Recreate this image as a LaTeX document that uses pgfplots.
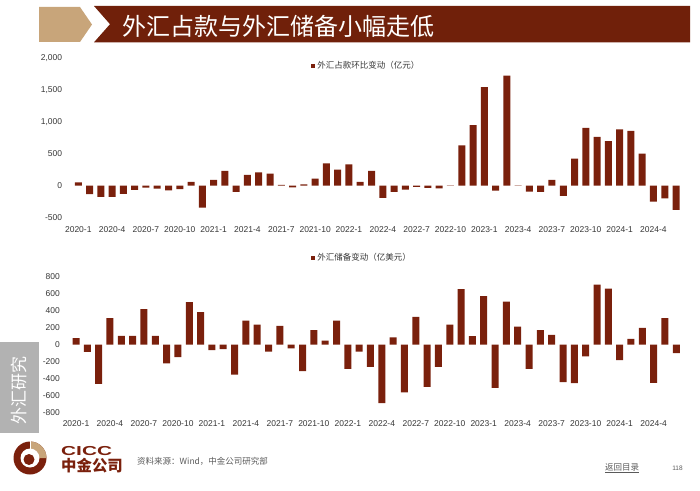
\documentclass[border=0pt]{standalone}
\usepackage{pgfplots}
\usepackage{pgfplotstable}
\pgfplotsset{compat=1.18}
\usepackage{fontspec}
\setmainfont{Liberation Sans}
\newfontfamily\cjk{Noto Sans CJK SC}
\definecolor{barred}{RGB}{122,32,12}
\definecolor{banner}{RGB}{112,32,10}
\definecolor{tanc}{RGB}{200,165,122}
\definecolor{side}{RGB}{178,178,178}
\definecolor{tickc}{RGB}{55,55,55}
\definecolor{srcc}{RGB}{90,90,90}

\pgfplotstableread{
x y
1 52
2 -135
3 -177
4 -177
5 -130
6 -68
7 -30
8 -47
9 -73
10 -57
11 57
12 -344
13 88
14 229
15 -99
16 167
17 208
18 188
19 10
20 -26
21 20
22 109
23 349
24 250
25 330
26 57
27 229
28 -193
29 -99
30 -63
31 -21
32 -36
33 -42
34 5
35 630
36 943
37 1537
38 -78
39 1719
40 5
41 -94
42 -99
43 88
44 -161
45 422
46 901
47 761
48 693
49 880
50 854
51 500
52 -250
53 -198
54 -380
}\tblA

\pgfplotstableread{
x y
1 75
2 -86
3 -464
4 310
5 102
6 102
7 417
8 102
9 -224
10 -149
11 499
12 381
13 -67
14 -55
15 -354
16 283
17 236
18 -83
19 220
20 -47
21 -314
22 169
23 47
24 283
25 -287
26 -83
27 -263
28 -692
29 83
30 -566
31 326
32 -499
33 -263
34 236
35 652
36 98
37 570
38 -511
39 507
40 212
41 -287
42 169
43 114
44 -444
45 -456
46 -141
47 707
48 660
49 -185
50 67
51 197
52 -452
53 310
54 -102
}\tblB

\pgfplotsset{
  cicc/.style={
    scale only axis,
    xmin=0.5, xmax=54.5,
    axis line style={draw=none},
    tick style={draw=none},
    major tick length=0pt,
    ybar, bar width=7pt,
    xtick={1,4,...,52},
    xticklabels={2020-1,2020-4,2020-7,2020-10,2021-1,2021-4,2021-7,2021-10,2022-1,2022-4,2022-7,2022-10,2023-1,2023-4,2023-7,2023-10,2024-1,2024-4},
    tick label style={font=\fontsize{8.5}{10}\selectfont, text=tickc},
    y tick label style={xshift=-7pt},
    x tick label style={yshift=-5pt},
    /pgf/number format/1000 sep={,},
    /pgf/number format/assume math mode=true,
    legend style={draw=none, fill=none, inner sep=0pt, legend cell align=left,
      font=\cjk\fontsize{8.5}{9}\selectfont, text=tickc},
    legend image code/.code={\fill[barred] (0pt,-2.2pt) rectangle (4.4pt,2.2pt);},
    clip=false,
  }
}

\begin{document}
\begin{tikzpicture}[x=1pt,y=1pt]
\path (0,0) rectangle (700,490);
% header
\fill[tanc] (39,483) -- (80,483) -- (92,465.5) -- (80,448) -- (39,448) -- cycle;
\fill[banner] (94,484) -- (690,484) -- (690,447.7) -- (94,447.7) -- (110,465.8) -- cycle;
\node[text=white, font=\cjk\fontsize{24}{26}\selectfont] at (278,463.5) {外汇占款与外汇储备小幅走低};

% sidebar
\fill[side] (0,148.3) rectangle (39,57);
\node[rotate=90, text=white, font=\cjk\fontsize{17}{18}\selectfont] at (19.5,100) {外汇研究};

% top chart
\begin{scope}[shift={(72.66pt,272.4pt)}]
\begin{axis}[cicc, width=609pt, height=160pt,
  ymin=-500, ymax=2000, ytick={-500,0,500,1000,1500,2000},
  legend style={at={(0.391,0.9475)}, anchor=west}]
\addplot[fill=barred, draw=none] table[x=x,y=y] {\tblA};
\addlegendentry{外汇占款环比变动（亿元）}
\end{axis}
\end{scope}

% bottom chart
\begin{scope}[shift={(70.34pt,77.7pt)}]
\begin{axis}[cicc, width=611.6pt, height=135.6pt,
  ymin=-800, ymax=800, ytick={-800,-600,...,800},
  legend style={at={(0.393,1.138)}, anchor=west}]
\addplot[fill=barred, draw=none] table[x=x,y=y] {\tblB};
\addlegendentry{外汇储备变动（亿美元）}
\end{axis}
\end{scope}

% footer logo
\fill[barred] (30,32) circle (16.5);
\fill[tanc] (46.5,32) arc (0:90:16.5) -- (30,41.5) arc (90:0:9.5) -- cycle;
\fill[white] (30,32) circle (9.5);
\fill[barred] (29,30.5) circle (5.5);
\draw[white, line width=1pt] (30,40.5) -- (30,48.6);
\node[anchor=west, text=barred, font=\bfseries\fontsize{13}{13}\selectfont, inner sep=0pt] at (61,38.7) {\scalebox{1.6}[1]{CICC}};
\node[anchor=west, text=barred, font=\cjk\bfseries\fontsize{15.4}{16}\selectfont, inner sep=0pt] at (61,24.3) {中金公司};
\node[anchor=west, text=srcc, font=\cjk\fontsize{8.5}{9}\selectfont, inner sep=0pt] at (137,29) {资料来源：Wind，中金公司研究部};
\node[text=srcc, font=\cjk\fontsize{8.5}{9}\selectfont, inner sep=0pt] at (622,22) {\underline{返回目录}};
\node[text=srcc, font=\fontsize{6.5}{7}\selectfont, inner sep=0pt] at (677.5,22) {118};
\end{tikzpicture}
\end{document}
